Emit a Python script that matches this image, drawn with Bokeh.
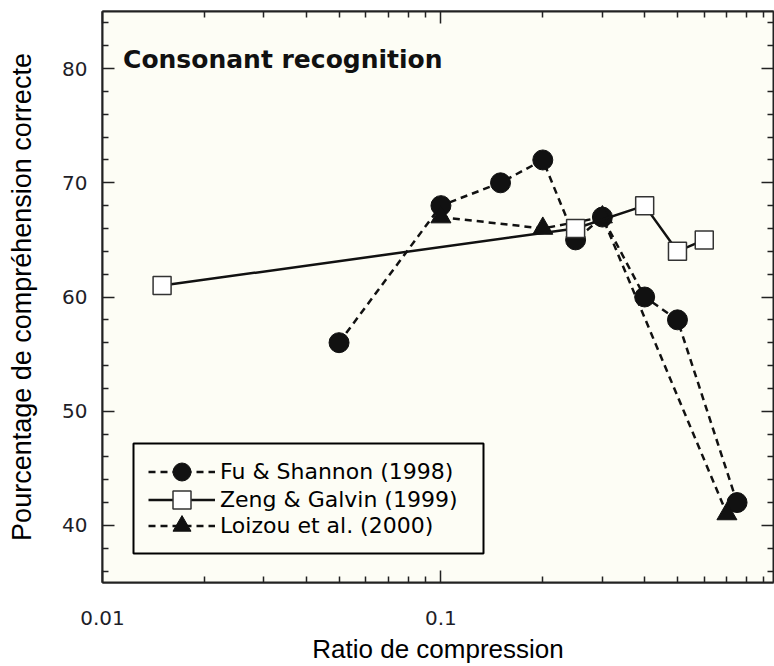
from bokeh.plotting import figure
from bokeh.models import (LogAxis, LinearAxis, FixedTicker,
                          Legend, LegendItem, Label, BoxAnnotation, Range1d)
from bokeh.embed import file_html
from bokeh.resources import INLINE

# ---- data ----
fu_x = [0.05, 0.1, 0.15, 0.2, 0.25, 0.3, 0.4, 0.5, 0.75]
fu_y = [56, 68, 70, 72, 65, 67, 60, 58, 42]

zeng_x = [0.015, 0.25, 0.4, 0.5, 0.6]
zeng_y = [61, 66, 68, 64, 65]

loizou_x = [0.1, 0.2, 0.3, 0.7]
loizou_y = [67, 66, 67, 41]

series_names = ["Fu & Shannon (1998)", "Zeng & Galvin (1999)", "Loizou et al. (2000)"]

x_ticks = [0.01, 0.1]
x_tick_labels = ["0.01", "0.1"]
x_minor_ticks = [0.02, 0.03, 0.04, 0.05, 0.06, 0.07, 0.08, 0.09,
                 0.2, 0.3, 0.4, 0.5, 0.6, 0.7, 0.8, 0.9]
y_ticks = [40, 50, 60, 70, 80]
y_minor_ticks = [36, 38, 42, 44, 46, 48, 52, 54, 56, 58, 62, 64, 66, 68,
                 72, 74, 76, 78, 82, 84]

title_text = "Consonant recognition"
x_title = "Ratio de compression"
y_title = "Pourcentage de compréhension correcte"

CREAM = "#fdfdf5"
INK = "#111111"

p = figure(width=774, height=666, x_axis_type="log",
           x_range=Range1d(0.01, 0.961), y_range=Range1d(35, 85),
           output_backend="svg", toolbar_location=None,
           background_fill_color=CREAM, border_fill_color="white",
           min_border_left=102, min_border_top=11, min_border_right=1,
           min_border_bottom=82)
p.grid.visible = False
p.outline_line_color = "#222222"
p.outline_line_width = 2

# cream paper behind the tick labels
p.add_layout(BoxAnnotation(left=53, right=774, top=0, bottom=635,
                           left_units="canvas", right_units="canvas",
                           top_units="canvas", bottom_units="canvas",
                           fill_color=CREAM, fill_alpha=1, line_color=None,
                           level="underlay"))

xt = FixedTicker(ticks=x_ticks, minor_ticks=x_minor_ticks)
yt = FixedTicker(ticks=y_ticks, minor_ticks=y_minor_ticks)

def style_axis(ax):
    ax.major_tick_in = 12
    ax.major_tick_out = 0
    ax.minor_tick_in = 6
    ax.minor_tick_out = 0
    ax.major_tick_line_color = "#222222"
    ax.minor_tick_line_color = "#222222"
    ax.major_tick_line_width = 1.5
    ax.minor_tick_line_width = 1.5
    ax.axis_line_color = "#222222"
    ax.axis_line_width = 2

xa = p.xaxis[0]
ya = p.yaxis[0]
xa.ticker = xt
ya.ticker = yt
xa.major_label_overrides = dict(zip(x_ticks, x_tick_labels))
for ax in (xa, ya):
    style_axis(ax)
    ax.major_label_text_font = "DejaVu Sans"
    ax.major_label_text_font_size = "20px"
    ax.major_label_text_color = "#1e1e28"
    ax.axis_label_text_font = "Liberation Sans"
    ax.axis_label_text_font_style = "normal"
    ax.axis_label_text_color = "black"
xa.axis_label = x_title
ya.axis_label = y_title
xa.axis_label_text_font_size = "26px"
ya.axis_label_text_font_size = "27px"
xa.major_label_standoff = 28
xa.axis_label_standoff = 6
ya.major_label_standoff = 15
ya.axis_label_standoff = 22

top = LogAxis(ticker=xt)
top.major_label_overrides = {v: "" for v in x_ticks}
right = LinearAxis(ticker=yt)
right.major_label_overrides = {v: "" for v in y_ticks}
for ax in (top, right):
    style_axis(ax)
    ax.major_label_text_font_size = "1px"
    ax.major_label_standoff = 0
    ax.axis_label_standoff = 0
p.add_layout(top, "above")
p.add_layout(right, "right")

# ---- series ----
fl = p.line(fu_x, fu_y, line_dash="7 5", line_width=2.5, line_color=INK)
fs = p.scatter(fu_x, fu_y, marker="circle", size=20, fill_color=INK, line_color=INK)

ll = p.line(loizou_x, loizou_y, line_dash="7 5", line_width=2.5, line_color=INK)
ls = p.scatter(loizou_x, loizou_y, marker="triangle", size=20, fill_color=INK, line_color=INK)

zl = p.line(zeng_x, zeng_y, line_width=2.5, line_color=INK)
zs = p.scatter(zeng_x, zeng_y, marker="square", size=18, fill_color="white",
               line_color="#333333", line_width=1.5)

# legend frame (frame-relative screen units), then one row per series
p.add_layout(BoxAnnotation(left=31, right=381, bottom=29, top=139,
                           left_units="screen", right_units="screen",
                           top_units="screen", bottom_units="screen",
                           fill_color=CREAM, fill_alpha=1,
                           line_color="black", line_width=2, line_alpha=1))

rows = [([fl, fs], 88), ([zl, zs], 60), ([ll, ls], 34)]
for (rends, ypos), name in zip(rows, series_names):
    p.add_layout(Legend(items=[LegendItem(label=name, renderers=rends)],
                        location=(46, ypos), glyph_width=67, glyph_height=45,
                        label_height=45, spacing=0, padding=0, margin=0,
                        label_standoff=5, border_line_color=None,
                        background_fill_alpha=0,
                        label_text_font="DejaVu Sans", label_text_font_size="22px",
                        label_text_color="black"))

p.add_layout(Label(x=0.0115, y=80.8, text=title_text, text_font="DejaVu Sans",
                   text_font_style="bold", text_font_size="25px",
                   text_baseline="middle", text_align="left", text_color=INK))

open("out.html", "w").write(file_html(p, INLINE))
